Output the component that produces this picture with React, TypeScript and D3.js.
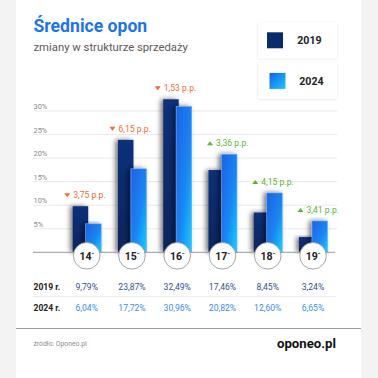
import React from "react";
import * as d3 from "d3";

const categories = ["14", "15", "16", "17", "18", "19"];
const values2019 = [9.79, 23.87, 32.49, 17.46, 8.45, 3.24];
const values2024 = [6.04, 17.72, 30.96, 20.82, 12.6, 6.65];
const yTicks = [5, 10, 15, 20, 25, 30];
const seriesLabels = ["2019", "2024"];
const rowLabels = ["2019 r.", "2024 r."];

const W = 378;
const H = 378;
const FONT = "Roboto, 'Noto Sans', sans-serif";

const fmt = (v: number) => v.toFixed(2).replace(".", ",");

export default function App() {
  const x = d3.scalePoint<string>().domain(categories).range([86.7, 313]);
  const y = d3.scaleLinear().domain([0, 30]).range([252.3, 111]);
  const barW = 15.5;
  const base = y(0);

  return (
    <svg
      width={W}
      height={H}
      viewBox={`0 0 ${W} ${H}`}
      style={{ position: "absolute", left: 0, top: 0, fontFamily: FONT }}
    >
      <defs>
        <linearGradient id="dark" x1="0" y1="0" x2="0" y2="1">
          <stop offset="0" stopColor="#10307a" />
          <stop offset="1" stopColor="#0a245e" />
        </linearGradient>
        <linearGradient id="light" x1="0" y1="0" x2="1" y2="1">
          <stop offset="0" stopColor="#1a62e2" />
          <stop offset="0.55" stopColor="#1a84f2" />
          <stop offset="1" stopColor="#12d2ff" />
        </linearGradient>
        <linearGradient id="lightSw" x1="0" y1="0" x2="1" y2="1">
          <stop offset="0" stopColor="#1a5ee8" />
          <stop offset="1" stopColor="#18ccff" />
        </linearGradient>
        <filter id="shadow" x="-80%" y="-10%" width="260%" height="120%">
          <feDropShadow dx="-2.5" dy="0" stdDeviation="2.5" floodColor="#000" floodOpacity="0.55" />
        </filter>
        <filter id="boxsh" x="-10%" y="-20%" width="120%" height="140%">
          <feDropShadow dx="0" dy="0.5" stdDeviation="1" floodColor="#000" floodOpacity="0.12" />
        </filter>
      </defs>

      <rect x={0} y={0} width={W} height={H} fill="#f3f3f3" />
      <rect x={16} y={0} width={345} height={H} fill="#ffffff" />

      {/* title */}
      <text x={33.5} y={32} fontSize={17.6} fontWeight={700} fill="#1e73e6">
        Średnice opon
      </text>
      <text x={33.5} y={50.5} fontSize={11.3} fill="#5a5a5a">
        zmiany w strukturze sprzedaży
      </text>

      {/* legend */}
      {seriesLabels.map((s, i) => {
        const by = i === 0 ? 22.7 : 63.3;
        return (
          <g key={s}>
            <rect x={258} y={by} width={79} height={35.5} fill="#fff" filter="url(#boxsh)" />
            <rect
              x={i === 0 ? 267 : 269.5}
              y={by + 9.6}
              width={16}
              height={16}
              fill={i === 0 ? "#0b2a6c" : "url(#lightSw)"}
            />
            <text
              x={i === 0 ? 297.3 : 299.3}
              y={by + 17.8}
              dy="0.35em"
              fontSize={10.6}
              fontWeight={700}
              fill="#222"
            >
              {s}
            </text>
          </g>
        );
      })}

      {/* grid */}
      {yTicks.map((t) => (
        <g key={t}>
          <line x1={33} x2={337} y1={y(t)} y2={y(t)} stroke="#e9e9e9" strokeWidth={1} />
          <text x={33.5} y={y(t) - 2} fontSize={7.4} fill="#8a8a8a">
            {t}%
          </text>
        </g>
      ))}

      {/* bars */}
      {categories.map((c, i) => {
        const cx = x(c)!;
        return (
          <g key={c}>
            <rect
              x={cx - 14}
              y={y(values2019[i])}
              width={barW}
              height={base - y(values2019[i])}
              fill="url(#dark)"
              filter="url(#shadow)"
            />
            <rect
              x={cx - 1}
              y={y(values2024[i])}
              width={barW}
              height={base - y(values2024[i])}
              fill="url(#light)"
              stroke="#6aaeff"
              strokeWidth={0.6}
              filter="url(#shadow)"
            />
          </g>
        );
      })}

      <line x1={33} x2={335} y1={base} y2={base} stroke="#9a9a9a" strokeWidth={1} />

      {/* annotations */}
      {categories.map((c, i) => {
        const cx = x(c)!;
        const diff = values2024[i] - values2019[i];
        const up = diff > 0;
        const top = y(Math.max(values2019[i], values2024[i]));
        const ly = top - 11;
        const tx = cx + (up ? -15.5 : -22.5);
        const col = up ? "#5cb531" : "#f26a35";
        const tri = up
          ? `M${tx},${ly + 2} L${tx + 6},${ly + 2} L${tx + 3},${ly - 2} Z`
          : `M${tx},${ly - 2} L${tx + 6},${ly - 2} L${tx + 3},${ly + 2} Z`;
        return (
          <g key={c}>
            <path d={tri} fill={col} />
            <text x={tx + 9} y={ly} dy="0.35em" fontSize={8.6} fill={col}>
              {fmt(Math.abs(diff))} p.p.
            </text>
          </g>
        );
      })}

      {/* circles */}
      {categories.map((c) => {
        const cx = x(c)!;
        return (
          <g key={c}>
            <circle cx={cx} cy={255.8} r={13.3} fill="#fff" stroke="#9a9a9a" strokeWidth={0.9} />
            <text x={cx} y={256.5} dy="0.35em" textAnchor="middle" fontSize={10.5} fontWeight={700} fill="#222">
              {c}
              <tspan fontSize={6} dy="-3.5">˝</tspan>
            </text>
          </g>
        );
      })}

      {/* table */}
      {[values2019, values2024].map((vals, r) => {
        const ry = r === 0 ? 286.7 : 307.7;
        return (
          <g key={r}>
            <text x={33.5} y={ry} dy="0.35em" fontSize={8.6} fontWeight={700} fill="#222">
              {rowLabels[r]}
            </text>
            {categories.map((c, i) => (
              <text
                key={c}
                x={x(c)!}
                y={ry}
                dy="0.35em"
                textAnchor="middle"
                fontSize={8.6}
                fill={r === 0 ? "#34508f" : "#3a8cf0"}
              >
                {fmt(vals[i])}%
              </text>
            ))}
          </g>
        );
      })}
      <line x1={33} x2={336} y1={296.5} y2={296.5} stroke="#ececec" strokeWidth={1} />

      {/* footer */}
      <line x1={16} x2={361} y1={328.5} y2={328.5} stroke="#9a9a9a" strokeWidth={1} />
      <text x={33.5} y={343.5} dy="0.35em" fontSize={6.8} fill="#8a8a8a">
        źródło: Oponeo.pl
      </text>
      <text x={336} y={343} dy="0.35em" textAnchor="end" fontSize={13.2} fontWeight={700} fill="#111">
        oponeo.pl
      </text>
    </svg>
  );
}
